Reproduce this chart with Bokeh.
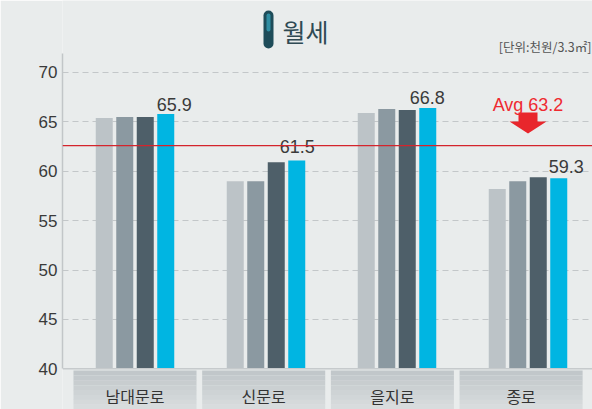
from bokeh.plotting import figure
from bokeh.models import Range1d, FixedTicker, Label, BoxAnnotation, Span
from bokeh.core.properties import value
from bokeh.embed import file_html
from bokeh.resources import INLINE

# ---------------- data ----------------
categories = ["남대문로", "신문로", "을지로", "종로"]
series1 = [65.4, 59.0, 65.9, 58.2]
series2 = [65.5, 59.0, 66.3, 59.0]
series3 = [65.5, 60.9, 66.2, 59.4]
series4 = [65.8, 61.1, 66.4, 59.3]
value_labels = [65.9, 61.5, 66.8, 59.3]
avg_label_value = 63.2
avg_line_value = 62.6
y_ticks = [40, 45, 50, 55, 60, 65, 70]
title_text = "월세"
unit_text = "[단위:천원/3.3㎡]"

# ---------------- style / geometry ----------------
BG = "#e9ecec"
bar_colors = ["#bcc3c7", "#8b99a1", "#4e5f69", "#00b5e2"]
W, H = 592, 409
PX_UNIT = 9.877      # pixels per y unit
Y40_REF = 368.3      # pixel row of value 40
GROUP_PX = 131.0     # bar group spacing
BOX_PX = 128.7       # category box spacing
C0_REF = 134.5       # first group centre (px)
LEFT = 62


def px_x(rx):
    return (rx - C0_REF) / GROUP_PX


def px_y(ry):
    return 40 + (Y40_REF - ry) / PX_UNIT


X_START, X_END = px_x(LEFT), px_x(W)
Y_START, Y_END = px_y(H), px_y(0)
BX_START = (LEFT - C0_REF) / BOX_PX
BX_END = (W - C0_REF) / BOX_PX

p = figure(width=W, height=H,
           x_range=Range1d(X_START, X_END), y_range=Range1d(Y_START, Y_END),
           output_backend="svg", toolbar_location=None, x_axis_location=None,
           min_border_left=LEFT, min_border_right=0, min_border_top=0, min_border_bottom=0)
p.extra_x_ranges = {"boxes": Range1d(BX_START, BX_END)}
p.background_fill_color = BG
p.border_fill_color = BG
p.outline_line_color = None

# grid
p.xgrid.visible = False
p.ygrid.ticker = FixedTicker(ticks=[t for t in y_ticks if t > 40])
p.ygrid.grid_line_color = "#c3c7c9"
p.ygrid.grid_line_dash = "6 4"
p.ygrid.grid_line_width = 1

# y axis
ax = p.yaxis[0]
ax.ticker = FixedTicker(ticks=y_ticks)
ax.bounds = (40, px_y(53))
ax.axis_line_color = "#c2c6c8"
ax.axis_line_width = 1.5
ax.major_tick_line_color = None
ax.minor_tick_line_color = None
ax.major_tick_in = 0
ax.major_tick_out = 0
ax.major_label_standoff = 5
ax.major_label_text_font = "Liberation Sans"
ax.major_label_text_font_size = "17px"
ax.major_label_text_color = "#3a3a3a"

# baseline at 40
p.add_layout(Span(location=40, dimension="width", line_color="#c6cacc", line_width=1.5))

# category boxes (vertical gradient in bands)
idx = list(range(len(categories)))
half_box = 0.478
top_c = (193, 199, 202)
bot_c = (216, 220, 221)
nb = 8
box_top = px_y(370)
for b in range(nb):
    t = b / (nb - 1)
    col = "#%02x%02x%02x" % tuple(int(round(top_c[k] + (bot_c[k] - top_c[k]) * t)) for k in range(3))
    y_hi = box_top - (box_top - Y_START) * b / nb
    y_lo = box_top - (box_top - Y_START) * (b + 1) / nb
    p.quad(left=[i - half_box for i in idx], right=[i + half_box for i in idx],
           top=[y_hi] * len(idx), bottom=[y_lo - 0.02] * len(idx),
           fill_color=col, line_color=None, x_range_name="boxes")

p.text(x=idx, y=[px_y(395)] * len(idx), text=categories, x_range_name="boxes",
       text_align="center", text_baseline="middle",
       text_font=value("Noto Sans CJK KR"), text_font_size="16px", text_color="#333333")

# bars
step = 20.5 / GROUP_PX
bw = 17.0 / GROUP_PX
for k, ser in enumerate([series1, series2, series3, series4]):
    off = (k - 1.5) * step
    p.vbar(x=[i + off for i in idx], top=ser, bottom=40, width=bw,
           fill_color=bar_colors[k], line_color=None)

# value labels above the last bar of each group
label_dx_px = [8.5, 0.5, -0.5, 7.5]
label_dy_px = [8.0, 10.0, 7.0, 12.0]
p.text(x=[i + 1.5 * step + label_dx_px[i] / GROUP_PX for i in idx],
       y=[v + label_dy_px[i] / PX_UNIT for i, v in enumerate(value_labels)],
       text=[f"{v:.1f}" for v in value_labels],
       text_align="center", text_baseline="alphabetic",
       text_font=value("Liberation Sans"), text_font_size="18px", text_color="#3a3a3a")

# average line + label + arrow
p.add_layout(Span(location=avg_line_value, dimension="width", line_color="#d4242c", line_width=1.2))
p.add_layout(Label(x=px_x(527.5), y=px_y(104), text=f"Avg {avg_label_value}",
                   text_align="center", text_baseline="alphabetic",
                   text_font="Liberation Sans", text_font_size="18px", text_color="#ef2a30"))
arrow_px = [(518, 112), (537, 112), (537, 121), (546, 121), (527.5, 133), (509, 121), (518, 121)]
p.patch(x=[px_x(a) for a, b in arrow_px], y=[px_y(b) for a, b in arrow_px],
        fill_color="#e8262c", line_color=None)

# title with pill icon
p.add_layout(BoxAnnotation(left=px_x(263), right=px_x(273), top=px_y(10), bottom=px_y(48),
                           fill_color="#1e4c59", fill_alpha=1, line_color=None, border_radius=5))
p.add_layout(BoxAnnotation(left=px_x(266), right=px_x(270), top=px_y(13), bottom=px_y(31),
                           fill_color="#2f8ea3", fill_alpha=1, line_color=None, border_radius=2))
p.add_layout(Label(x=px_x(282), y=px_y(30), text=title_text, text_align="left",
                   text_baseline="middle", text_font="Noto Sans CJK KR",
                   text_font_size="25px", text_color="#2f4a54"))
p.add_layout(Label(x=px_x(591), y=px_y(45.5), text=unit_text, text_align="right",
                   text_baseline="middle", text_font="Noto Sans CJK KR",
                   text_font_size="12.5px", text_color="#555555"))

open("out.html", "w").write(file_html(p, INLINE))
